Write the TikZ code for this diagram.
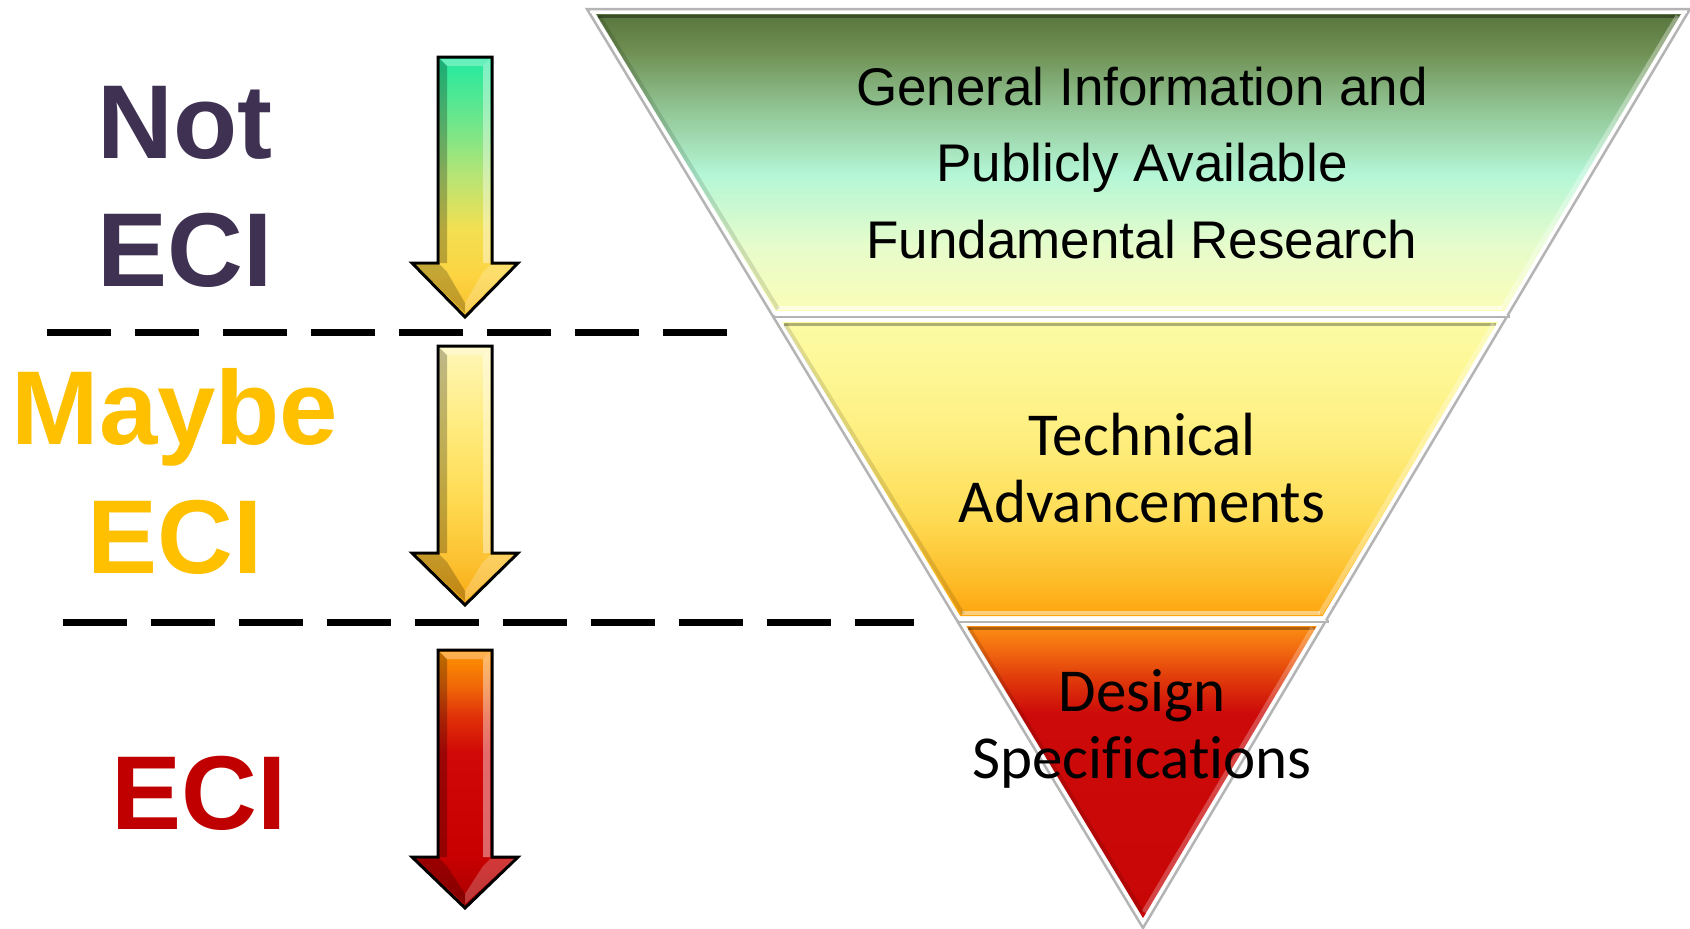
\documentclass[tikz,border=0pt]{standalone}
\usepackage{fontspec}
\setmainfont{Liberation Sans}
\newfontfamily\calfont[Ligatures={NoCommon,NoContextual}]{Carlito}
\usetikzlibrary{calc}

\definecolor{bAa}{HTML}{FBFDB6}\definecolor{bAb}{HTML}{E6FCCB}\definecolor{bAc}{HTML}{B4F6D6}
\definecolor{bAd}{HTML}{8EC08E}\definecolor{bAe}{HTML}{6E8E52}\definecolor{bAf}{HTML}{58763E}
\definecolor{bBa}{HTML}{FDA50F}\definecolor{bBb}{HTML}{FDBC28}\definecolor{bBc}{HTML}{FEDC55}
\definecolor{bBd}{HTML}{FEEE7E}\definecolor{bBe}{HTML}{FDF898}\definecolor{bBf}{HTML}{FCFBA4}
\definecolor{bCa}{HTML}{C80606}\definecolor{bCb}{HTML}{CC0A0A}\definecolor{bCc}{HTML}{E03A0A}
\definecolor{bCd}{HTML}{F26A10}\definecolor{bCe}{HTML}{FB8E12}
\definecolor{aAa}{HTML}{F8C02A}\definecolor{aAb}{HTML}{FDD442}\definecolor{aAc}{HTML}{F2E052}
\definecolor{aAd}{HTML}{B8E474}\definecolor{aAe}{HTML}{72E68A}\definecolor{aAf}{HTML}{20EAA0}
\definecolor{aBa}{HTML}{F8A810}\definecolor{aBb}{HTML}{FCC030}\definecolor{aBc}{HTML}{FFDA50}
\definecolor{aBd}{HTML}{FFEC80}\definecolor{aBe}{HTML}{FFF7B8}
\definecolor{aCa}{HTML}{A80000}\definecolor{aCb}{HTML}{C80000}\definecolor{aCc}{HTML}{D00808}
\definecolor{aCd}{HTML}{E03008}\definecolor{aCe}{HTML}{F06808}\definecolor{aCf}{HTML}{FF9400}
\definecolor{notpurple}{HTML}{3F3152}
\definecolor{maybeyellow}{HTML}{FFC000}
\definecolor{ecired}{HTML}{C00000}
\definecolor{rimgray}{HTML}{B4B4B4}

\pgfdeclareverticalshading{bandA}{100bp}{color(0bp)=(bAa); color(25bp)=(bAa); color(36bp)=(bAb); color(48bp)=(bAc); color(60bp)=(bAd); color(69bp)=(bAe); color(75bp)=(bAf); color(100bp)=(bAf)}
\pgfdeclareverticalshading{bandB}{100bp}{color(0bp)=(bBa); color(25bp)=(bBa); color(31bp)=(bBb); color(42bp)=(bBc); color(55bp)=(bBd); color(68bp)=(bBe); color(75bp)=(bBf); color(100bp)=(bBf)}
\pgfdeclareverticalshading{bandC}{100bp}{color(0bp)=(bCa); color(25bp)=(bCa); color(60bp)=(bCb); color(66bp)=(bCc); color(71bp)=(bCd); color(75bp)=(bCe); color(100bp)=(bCe)}
\pgfdeclareverticalshading{arrA}{100bp}{color(0bp)=(aAa); color(25bp)=(aAa); color(33bp)=(aAb); color(42bp)=(aAc); color(52bp)=(aAd); color(62bp)=(aAe); color(75bp)=(aAf); color(100bp)=(aAf)}
\pgfdeclareverticalshading{arrB}{100bp}{color(0bp)=(aBa); color(25bp)=(aBa); color(33bp)=(aBb); color(45bp)=(aBc); color(60bp)=(aBd); color(75bp)=(aBe); color(100bp)=(aBe)}
\pgfdeclareverticalshading{arrC}{100bp}{color(0bp)=(aCa); color(25bp)=(aCa); color(35bp)=(aCb); color(55bp)=(aCc); color(62bp)=(aCd); color(68bp)=(aCe); color(75bp)=(aCf); color(100bp)=(aCf)}

\newcommand\eciarrow[4]{%
  \shade[shading=#4, draw=black, line width=3pt, line join=miter]
    (438,#1) -- (492,#1) -- (492,#2) -- (518,#2) -- (465,#3) -- (412,#2) -- (438,#2) -- cycle;
  \fill[black, opacity=.25] (440,#1+2) -- (447,#1+9) -- (447,#2) -- (440,#2) -- cycle;
  \fill[white, opacity=.4] (490,#1+2) -- (483,#1+9) -- (483,#2) -- (490,#2) -- cycle;
  \fill[white, opacity=.3] (440,#1+2) -- (490,#1+2) -- (483,#1+9) -- (447,#1+9) -- cycle;
  \fill[black, opacity=.22] (416,#2+2) -- (440,#2+2) -- (447,#2+9) -- (465,#3-14) -- (465,#3-4) -- cycle;
  \fill[white, opacity=.22] (514,#2+2) -- (490,#2+2) -- (483,#2+9) -- (465,#3-14) -- (465,#3-4) -- cycle;
}

\tikzset{
  biglabel/.style={font=\bfseries\fontsize{105}{105}\selectfont, anchor=base, inner sep=0pt},
  tritext/.style={font=\fontsize{53}{60}\selectfont, anchor=base, inner sep=0pt, text=black},
  caltext/.style={font=\calfont\fontsize{61}{66}\selectfont, anchor=base, inner sep=0pt, text=black},
  divider/.style={black, line width=7pt, dash pattern=on 64pt off 24pt},
  rim/.style={rimgray, line width=2.5pt, line join=miter},
}

\begin{document}
\begin{tikzpicture}[x=1pt, y=-1pt]
\useasboundingbox (0,0) rectangle (1690,929);
\fill[white] (0,0) rectangle (1690,929);

% ---------- inverted triangle ----------
\draw[rim] (587,9) -- (1690,9) -- (1143,928) -- cycle;
\draw[white, line width=1pt] (590,12) -- (1687,12);
% band 1
\shade[shading=bandA] (596,14) -- (1681,14) -- (1504.3,311) -- (775.7,311) -- cycle;
\draw[black, opacity=.35, line width=3pt] (598,16) -- (1679,16);
\draw[white, opacity=.6, line width=4pt] (777,308) -- (1502,308);
\draw[white, opacity=.35, line width=5pt] (1678,16) -- (1502,309);
\draw[black, opacity=.12, line width=4pt] (599,16) -- (778,309);
% band 2
\shade[shading=bandB] (782.4,322) -- (1497.7,322) -- (1322.7,616) -- (960.2,616) -- cycle;
\draw[black, opacity=.3, line width=3pt] (784,324) -- (1496,324);
\draw[white, opacity=.45, line width=4pt] (962,613) -- (1320,613);
\draw[white, opacity=.3, line width=5pt] (1494,324) -- (1320,614);
\draw[black, opacity=.12, line width=4pt] (785,324) -- (963,614);
% band 3
\shade[shading=bandC] (966.3,626) -- (1316.8,626) -- (1143,918) -- cycle;
\draw[black, opacity=.3, line width=3pt] (968,628) -- (1315,628);
\draw[white, opacity=.25, line width=5pt] (1313,628) -- (1144,912);
\draw[black, opacity=.12, line width=4pt] (969,628) -- (1142,912);
% separators
\draw[rimgray, line width=3pt] (772.7,316.5) -- (1510,316.5);
\draw[white, line width=1pt] (775,315.5) -- (1507,315.5);
\draw[rimgray, line width=3pt] (957.3,621) -- (1329,621);
\draw[white, line width=1pt] (959,620) -- (1326,620);

% ---------- triangle texts ----------
\node[tritext] (gi1) at (1142,105) {General Information and};
\node[tritext] (gi2) at (1142,181) {Publicly Available};
\node[tritext] (gi3) at (1142,258) {Fundamental Research};
\node[caltext] (ta1) at (1142,455) {Technical};
\node[caltext] (ta2) at (1142,522) {Advancements};
\node[caltext] (ds1) at (1142,711) {Design};
\node[caltext] (ds2) at (1142,778) {Specifications};

% ---------- dashed dividers ----------
\draw[divider] (47,332) -- (727,332);
\draw[divider] (63,622) -- (914,622);

% ---------- arrows ----------
\eciarrow{57}{263}{317}{arrA}
\eciarrow{346}{553}{605}{arrB}
\eciarrow{650}{857}{908}{arrC}

% ---------- left labels ----------
\node[biglabel, text=notpurple] (not) at (185,158) {Not};
\node[biglabel, text=notpurple] (eciA) at (185,286) {ECI};
\node[biglabel, text=maybeyellow] (maybe) at (175,444) {Maybe};
\node[biglabel, text=maybeyellow] (eciB) at (175,573) {ECI};
\node[biglabel, text=ecired] (eciC) at (199,829) {ECI};
\end{tikzpicture}
\end{document}
